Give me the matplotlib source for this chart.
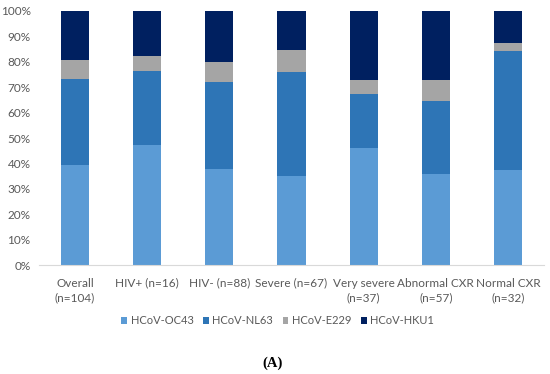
import matplotlib
matplotlib.use("Agg")
import matplotlib.pyplot as plt
import numpy as np

categories = ["Overall\n(n=104)", "HIV+ (n=16)", "HIV- (n=88)", "Severe (n=67)",
              "Very severe\n(n=37)", "Abnormal CXR\n(n=57)", "Normal CXR\n(n=32)"]
series_names = ["HCoV-OC43", "HCoV-NL63", "HCoV-E229", "HCoV-HKU1"]
oc43 = [39.4, 47.1, 37.7, 35.2, 45.9, 35.8, 37.5]
nl63 = [33.7, 29.4, 34.5, 40.9, 21.6, 28.8, 46.9]
e229 = [7.7, 5.9, 7.6, 8.4, 5.4, 8.2, 3.1]
hku1 = [19.2, 17.6, 20.2, 15.5, 27.1, 27.2, 12.5]
colors = ["#5B9BD5", "#2E75B6", "#A5A5A5", "#002060"]

plt.rcParams['font.family'] = ['Lato', 'DejaVu Sans']

fig = plt.figure(figsize=(5.5, 3.74), dpi=100)
ax = fig.add_axes([39/550, 0.291, 505/550, 0.68])

x = np.arange(len(categories))
bottom = np.zeros(len(categories))
for vals, name, c in zip([oc43, nl63, e229, hku1], series_names, colors):
    ax.bar(x, vals, 0.39, bottom=bottom, color=c, label=name)
    bottom += np.array(vals)

ax.set_xlim(-0.5, len(categories) - 0.5)
ax.set_ylim(0, 100)
ax.set_yticks(np.arange(0, 101, 10))
ax.set_yticklabels([f"{v}%" for v in range(0, 101, 10)])
ax.set_xticks(x)
ax.set_xticklabels(categories, linespacing=1.35)
for s in ["top", "right", "left"]:
    ax.spines[s].set_visible(False)
ax.spines["bottom"].set_color("#D9D9D9")
ax.tick_params(axis="both", length=0, labelsize=8.5, colors="#595959")
ax.tick_params(axis="x", pad=9)
ax.tick_params(axis="y", pad=6)

leg = fig.legend(loc="center", bbox_to_anchor=(0.505, 0.142), ncol=4, frameon=False,
                 fontsize=8, handlelength=0.5, handleheight=0.5, columnspacing=0.85,
                 handletextpad=0.35)
for t in leg.get_texts():
    t.set_color("#595959")

fig.text(0.495, 0.03, "(A)", ha="center", va="center", fontsize=10.5, fontweight="bold",
         family="Liberation Serif")

fig.savefig("out.png", dpi=100)
